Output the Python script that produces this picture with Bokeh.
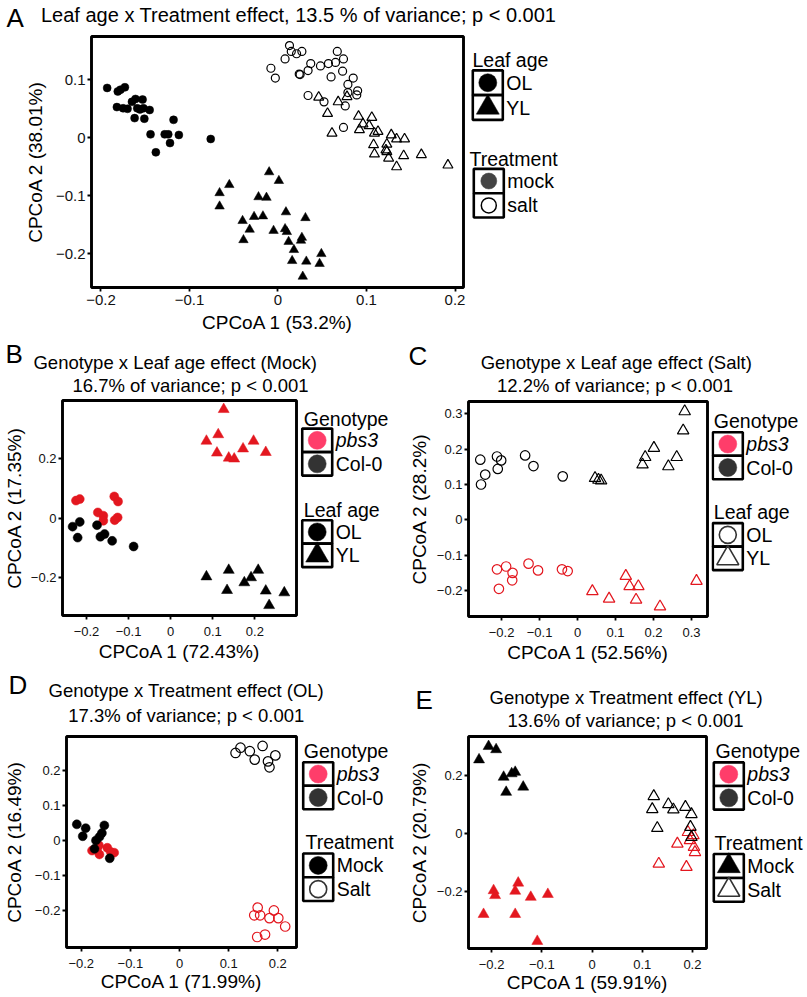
from bokeh.plotting import figure
from bokeh.models import Range1d, FixedTicker
from bokeh.layouts import column, row
from bokeh.embed import file_html
from bokeh.resources import INLINE
from bokeh.core.properties import value

FONT = "Liberation Sans"
RED = "#e3171f"
PINK = "#ff3d6a"
DARK = "#333333"

# ---------------- Panel A data ----------------
A_OL_MOCK_X = [-0.193, -0.181, -0.178, -0.173, -0.182, -0.175, -0.170, -0.165, -0.161, -0.153, -0.159, -0.152,
               -0.145, -0.156, -0.162, -0.151, -0.118, -0.144, -0.128, -0.124, -0.112, -0.122, -0.138, -0.076]
A_OL_MOCK_Y = [0.086, 0.080, 0.083, 0.087, 0.053, 0.051, 0.050, 0.062, 0.067, 0.066, 0.051, 0.051,
               0.048, 0.049, 0.034, 0.033, 0.031, 0.006, 0.006, 0.006, 0.005, -0.009, -0.025, -0.002]
A_OL_SALT_X = [0.013, 0.015, 0.021, 0.027, 0.008, -0.008, -0.003, 0.024, 0.025, 0.034, 0.037, 0.048, 0.057, 0.065,
               0.074, 0.067, 0.060, 0.073, 0.085, 0.079, 0.090, 0.089, 0.079, 0.034, 0.052, 0.076, 0.074]
A_OL_SALT_Y = [0.159, 0.149, 0.145, 0.149, 0.136, 0.120, 0.103, 0.110, 0.109, 0.116, 0.128, 0.124, 0.128, 0.130,
               0.136, 0.149, 0.105, 0.115, 0.103, 0.092, 0.081, 0.074, 0.078, 0.073, 0.062, 0.055, 0.018]
A_YL_SALT_X = [0.046, 0.068, 0.078, 0.056, 0.061, 0.091, 0.106, 0.096, 0.103, 0.092, 0.109, 0.113, 0.128,
               0.134, 0.143, 0.108, 0.123, 0.122, 0.123, 0.109, 0.125, 0.142, 0.162, 0.134, 0.192]
A_YL_SALT_Y = [0.070, 0.062, 0.071, 0.042, 0.008, 0.037, 0.035, 0.024, 0.021, 0.014, 0.008, 0.011, 0.005,
               -0.002, -0.002, -0.012, -0.011, -0.021, -0.024, -0.028, -0.035, -0.031, -0.029, -0.050, -0.047]
A_YL_MOCK_X = [-0.010, 0.001, -0.055, -0.066, -0.066, -0.022, -0.013, -0.040, -0.027, -0.017, -0.032, -0.039, 0.009,
               -0.005, 0.008, 0.010, 0.031, 0.012, 0.027, 0.026, 0.018, 0.016, 0.032, 0.049, 0.047, 0.028]
A_YL_MOCK_Y = [-0.059, -0.074, -0.081, -0.095, -0.118, -0.102, -0.103, -0.143, -0.136, -0.135, -0.158, -0.176, -0.128,
               -0.160, -0.157, -0.162, -0.138, -0.179, -0.172, -0.177, -0.193, -0.212, -0.213, -0.200, -0.217, -0.239]

# ---------------- Panel B data ----------------
B_PBS3_YL_X = [0.126, 0.113, 0.085, 0.110, 0.138, 0.151, 0.172, 0.197, 0.226]
B_PBS3_YL_Y = [0.367, 0.282, 0.260, 0.220, 0.203, 0.200, 0.234, 0.260, 0.222]
B_PBS3_OL_X = [-0.225, -0.216, -0.173, -0.160, -0.160, -0.134, -0.125, -0.126, -0.133]
B_PBS3_OL_Y = [0.059, 0.064, 0.019, 0.008, -0.009, 0.073, 0.056, 0.002, -0.007]
B_COL_OL_X = [-0.233, -0.216, -0.221, -0.175, -0.167, -0.157, -0.139, -0.088]
B_COL_OL_Y = [-0.029, -0.013, -0.066, -0.024, -0.063, -0.054, -0.077, -0.096]
B_COL_YL_X = [0.085, 0.138, 0.134, 0.175, 0.191, 0.208, 0.226, 0.234, 0.270]
B_COL_YL_Y = [-0.198, -0.176, -0.244, -0.218, -0.201, -0.176, -0.246, -0.295, -0.252]

# ---------------- Panel C data ----------------
C_COL_OL_X = [-0.256, -0.243, -0.254, -0.212, -0.201, -0.210, -0.138, -0.116, -0.039]
C_COL_OL_Y = [0.170, 0.128, 0.100, 0.179, 0.168, 0.144, 0.182, 0.152, 0.123]
C_COL_YL_X = [0.046, 0.055, 0.062, 0.171, 0.178, 0.201, 0.239, 0.261, 0.278, 0.282]
C_COL_YL_Y = [0.118, 0.113, 0.111, 0.156, 0.177, 0.203, 0.151, 0.177, 0.252, 0.306]
C_PBS3_OL_X = [-0.212, -0.188, -0.171, -0.172, -0.207, -0.129, -0.104, -0.041, -0.026]
C_PBS3_OL_Y = [-0.139, -0.131, -0.149, -0.170, -0.194, -0.123, -0.142, -0.139, -0.144]
C_PBS3_YL_X = [0.039, 0.083, 0.127, 0.137, 0.160, 0.154, 0.217, 0.313]
C_PBS3_YL_Y = [-0.201, -0.222, -0.158, -0.187, -0.187, -0.225, -0.244, -0.172]

# ---------------- Panel D data ----------------
D_COL_SALT_X = [0.114, 0.124, 0.143, 0.153, 0.169, 0.180, 0.183, 0.195]
D_COL_SALT_Y = [0.250, 0.265, 0.255, 0.231, 0.270, 0.226, 0.209, 0.243]
D_PBS3_SALT_X = [0.159, 0.152, 0.164, 0.183, 0.192, 0.201, 0.215, 0.158, 0.174]
D_PBS3_SALT_Y = [-0.192, -0.214, -0.214, -0.222, -0.200, -0.222, -0.246, -0.276, -0.269]
D_PBS3_MOCK_X = [-0.178, -0.163, -0.147, -0.133, -0.168, -0.140, -0.164]
D_PBS3_MOCK_Y = [-0.029, -0.040, -0.021, -0.035, -0.027, -0.033, -0.014]
D_COL_MOCK_X = [-0.209, -0.191, -0.197, -0.153, -0.158, -0.163, -0.170, -0.173, -0.142]
D_COL_MOCK_Y = [0.046, 0.035, 0.012, 0.043, 0.021, 0.010, 0.000, -0.024, -0.051]

# ---------------- Panel E data ----------------
E_COL_MOCK_X = [-0.225, -0.206, -0.191, -0.176, -0.171, -0.160, -0.153, -0.137]
E_COL_MOCK_Y = [0.253, 0.299, 0.288, 0.193, 0.141, 0.205, 0.210, 0.159]
E_PBS3_MOCK_X = [-0.196, -0.193, -0.216, -0.153, -0.147, -0.153, -0.122, -0.088, -0.109]
E_PBS3_MOCK_Y = [-0.198, -0.215, -0.280, -0.200, -0.172, -0.280, -0.221, -0.211, -0.373]
E_COL_SALT_X = [0.123, 0.120, 0.130, 0.152, 0.162, 0.186, 0.198, 0.196, 0.198]
E_COL_SALT_Y = [0.127, 0.082, 0.017, 0.099, 0.081, 0.090, 0.065, 0.021, -0.014]
E_PBS3_SALT_X = [0.170, 0.133, 0.188, 0.191, 0.195, 0.203, 0.205, 0.202]
E_PBS3_SALT_Y = [-0.037, -0.106, -0.117, 0.003, -0.025, -0.048, -0.066, -0.008]

# ---------------- ticks ----------------
TICKS_5 = [-0.2, -0.1, 0.0, 0.1, 0.2]
TICKS_5_LABELS = ["\u22120.2", "\u22120.1", "0", "0.1", "0.2"]
A_YTICKS = [-0.2, -0.1, 0.0, 0.1]
A_YTICK_LABELS = ["\u22120.2", "\u22120.1", "0", "0.1"]
TICKS_3 = [-0.2, 0.0, 0.2]
TICKS_3_LABELS = ["\u22120.2", "0", "0.2"]
C_TICKS = [-0.2, -0.1, 0.0, 0.1, 0.2, 0.3]
C_TICK_LABELS = ["\u22120.2", "\u22120.1", "0", "0.1", "0.2", "0.3"]

# ---------------- texts ----------------
TITLE_A = "Leaf age x Treatment effect, 13.5 % of variance; p < 0.001"
TITLES_B = ["Genotype x Leaf age effect (Mock)", "16.7% of variance; p < 0.001"]
TITLES_C = ["Genotype x Leaf age effect (Salt)", "12.2% of variance; p < 0.001"]
TITLES_D = ["Genotype x Treatment effect (OL)", "17.3% of variance; p < 0.001"]
TITLES_E = ["Genotype x Treatment effect (YL)", "13.6% of variance; p < 0.001"]


def canvas(w, h):
    p = figure(width=w, height=h, x_range=Range1d(0, w), y_range=Range1d(h, 0),
               output_backend="svg", toolbar_location=None, min_border=0,
               x_axis_type=None, y_axis_type=None)
    p.outline_line_color = None
    p.grid.visible = False
    p.background_fill_color = "white"
    p.border_fill_color = "white"
    return p


def txt(p, x, y, s, size, align="left", style="normal"):
    p.text(x=[x], y=[y], text=[s], text_font=value(FONT), text_font_size=size,
           text_align=align, text_baseline="middle", text_color="black", text_font_style=style)


def panel(xr, yr, fw, fh, mbl, mbr, mbt, mbb, xt, xtl, yt, ytl, xlabel, ylabel,
          tick_px, xls, yls, xas, yas):
    p = figure(width=mbl + fw + mbr, height=mbt + fh + mbb, x_range=Range1d(*xr), y_range=Range1d(*yr),
               output_backend="svg", toolbar_location=None,
               min_border_left=mbl, min_border_right=mbr, min_border_top=mbt, min_border_bottom=mbb)
    p.grid.visible = False
    p.outline_line_color = "black"
    p.outline_line_width = 2.9
    p.background_fill_color = "white"
    p.border_fill_color = "white"
    for ax, ticks, labels, lab, ls, als in ((p.xaxis[0], xt, xtl, xlabel, xls, xas),
                                            (p.yaxis[0], yt, ytl, ylabel, yls, yas)):
        ax.ticker = FixedTicker(ticks=ticks)
        ax.major_label_overrides = {t: l for t, l in zip(ticks, labels)}
        ax.axis_line_color = None
        ax.major_tick_in = 0
        ax.major_tick_out = 4
        ax.major_tick_line_width = 1.8
        ax.major_tick_line_color = "black"
        ax.minor_tick_line_color = None
        ax.major_label_text_font = FONT
        ax.major_label_text_font_size = tick_px
        ax.major_label_text_color = "#111111"
        ax.major_label_standoff = ls
        ax.axis_label = lab
        ax.axis_label_text_font = FONT
        ax.axis_label_text_font_size = "19px"
        ax.axis_label_text_font_style = "normal"
        ax.axis_label_text_color = "black"
        ax.axis_label_standoff = als
    p.yaxis[0].major_label_orientation = "horizontal"
    return p


def pts(p, xs, ys, marker, size, color, filled):
    if filled:
        p.scatter(xs, ys, marker=marker, size=size, fill_color=color, line_color=color, line_width=0.5)
    else:
        p.scatter(xs, ys, marker=marker, size=size, fill_color=None, line_color=color, line_width=1.2)


def legend_group(p, title, tx, ty, bx, by, kh, entries):
    txt(p, tx, ty, title, "19.5px")
    for i, (lab, marker, size, fill, line, lw, style) in enumerate(entries):
        cy = by + kh * (i + 0.5)
        p.rect(x=[bx + 15], y=[cy], width=30, height=kh, fill_color="white",
               line_color="black", line_width=2.6)
        p.scatter(x=[bx + 15], y=[cy], marker=marker, size=size, fill_color=fill,
                  line_color=line, line_width=lw)
        txt(p, bx + 33.5, cy, lab, "19.5px", style=style)


GENO = [("pbs3", "circle", 18, PINK, PINK, 0.5, "italic"), ("Col-0", "circle", 18, DARK, DARK, 0.5, "normal")]
AGE_FILLED = [("OL", "circle", 18, "black", "black", 0.5, "normal"), ("YL", "triangle", 23, "black", "black", 0.5, "normal")]
AGE_OPEN = [("OL", "circle", 17, None, DARK, 1.6, "normal"), ("YL", "triangle", 22, None, DARK, 1.6, "normal")]
TREAT_A = [("mock", "circle", 16, "#444444", "#444444", 0.5, "normal"), ("salt", "circle", 15, None, "black", 1.5, "normal")]
TREAT_D = [("Mock", "circle", 18, "black", "black", 0.5, "normal"), ("Salt", "circle", 17, None, DARK, 1.6, "normal")]
TREAT_E = [("Mock", "triangle", 23, "black", "black", 0.5, "normal"), ("Salt", "triangle", 22, None, DARK, 1.6, "normal")]

# ================= Row 1 : panel A =================
hdrA = canvas(806, 34)
txt(hdrA, 6, 17, "A", "26px")
txt(hdrA, 40.5, 14, TITLE_A, "20px")

figA = panel((-0.2107, 0.2096), (-0.258, 0.1747), 372, 251, 91, 4, 2, 51,
             TICKS_5, TICKS_5_LABELS, A_YTICKS, A_YTICK_LABELS,
             "CPCoA 1 (53.2%)", "CPCoA 2 (38.01%)", "15px", 3, 2, 4, 7)
pts(figA, A_OL_MOCK_X, A_OL_MOCK_Y, "circle", 8, "black", True)
pts(figA, A_YL_MOCK_X, A_YL_MOCK_Y, "triangle", 9.5, "black", True)
pts(figA, A_OL_SALT_X, A_OL_SALT_Y, "circle", 8, "black", False)
pts(figA, A_YL_SALT_X, A_YL_SALT_Y, "triangle", 10, "black", False)

legA = canvas(339, 304)
legend_group(legA, "Leaf age", 5, 29, 5.3, 41, 30, AGE_FILLED)
legend_group(legA, "Treatment", 2, 148.7, 6.3, 160.3, 29.5, TREAT_A)

row1 = column(hdrA, row(figA, legA))

# ================= Row 2 : panels B, C =================
hdrB = canvas(405, 60)
txt(hdrB, 5, 15, "B", "26px")
txt(hdrB, 174.7, 23.7, TITLES_B[0], "18.5px", align="center")
txt(hdrB, 190, 47, TITLES_B[1], "18.5px", align="center")

figB = panel((-0.257, 0.299), (-0.329, 0.397), 240, 215, 56, 4, 2, 53,
             TICKS_5, TICKS_5_LABELS, TICKS_3, TICKS_3_LABELS,
             "CPCoA 1 (72.43%)", "CPCoA 2 (17.35%)", "13px", 7, 2, 2, 3)
pts(figB, B_PBS3_YL_X, B_PBS3_YL_Y, "triangle", 11, RED, True)
pts(figB, B_PBS3_OL_X, B_PBS3_OL_Y, "circle", 9, RED, True)
pts(figB, B_COL_OL_X, B_COL_OL_Y, "circle", 9, "black", True)
pts(figB, B_COL_YL_X, B_COL_YL_Y, "triangle", 11, "black", True)

legB = canvas(105, 270)
legend_group(legB, "Genotype", 3.3, 22.7, 1.7, 35.3, 29.5, GENO)
legend_group(legB, "Leaf age", 3.3, 137, 1.7, 150.3, 29.5, AGE_FILLED)

hdrC = canvas(401, 60)
txt(hdrC, 3, 17, "C", "26px")
txt(hdrC, 210.8, 23.7, TITLES_C[0], "18.5px", align="center")
txt(hdrC, 209.5, 47, TITLES_C[1], "18.5px", align="center")

figC = panel((-0.287, 0.342), (-0.272, 0.334), 240, 215, 62, 4, 3, 52,
             C_TICKS, C_TICK_LABELS, C_TICKS, C_TICK_LABELS,
             "CPCoA 1 (52.56%)", "CPCoA 2 (28.2%)", "13px", 7, 2, 2, 4)
pts(figC, C_PBS3_OL_X, C_PBS3_OL_Y, "circle", 9.5, RED, False)
pts(figC, C_PBS3_YL_X, C_PBS3_YL_Y, "triangle", 11.5, RED, False)
pts(figC, C_COL_OL_X, C_COL_OL_Y, "circle", 9.5, "black", False)
pts(figC, C_COL_YL_X, C_COL_YL_Y, "triangle", 11.5, "black", False)

legC = canvas(95, 270)
legend_group(legC, "Genotype", 2.3, 24.7, 1.3, 38.7, 29.5, GENO)
legend_group(legC, "Leaf age", 2.3, 139.3, 1.3, 152.7, 29.5, AGE_OPEN)

row2 = row(column(hdrB, row(figB, legB)), column(hdrC, row(figC, legC)))

# ================= Row 3 : panels D, E =================
hdrD = canvas(405, 66)
txt(hdrD, 8, 16.5, "D", "26px")
txt(hdrD, 185.8, 22, TITLES_D[0], "18.5px", align="center")
txt(hdrD, 185.8, 47, TITLES_D[1], "18.5px", align="center")

figD = panel((-0.230, 0.238), (-0.306, 0.297), 236, 211, 60, 4, 2, 49,
             TICKS_5, TICKS_5_LABELS, TICKS_5, TICKS_5_LABELS,
             "CPCoA 1 (71.99%)", "CPCoA 2 (16.49%)", "13px", 7, 2, 0, 7)
pts(figD, D_PBS3_MOCK_X, D_PBS3_MOCK_Y, "circle", 9, RED, True)
pts(figD, D_COL_MOCK_X, D_COL_MOCK_Y, "circle", 9, "black", True)
pts(figD, D_PBS3_SALT_X, D_PBS3_SALT_Y, "circle", 9.5, RED, False)
pts(figD, D_COL_SALT_X, D_COL_SALT_Y, "circle", 9.5, "black", False)

legD = canvas(105, 262)
legend_group(legD, "Genotype", 3.3, 17.7, 2.7, 32, 29.2, GENO)
legend_group(legD, "Treatment", 5, 131, 2.7, 145.3, 29.5, TREAT_D)

hdrE = canvas(401, 66)
txt(hdrE, 10, 31, "E", "26px")
txt(hdrE, 220.8, 29.3, TITLES_E[0], "18.5px", align="center")
txt(hdrE, 220, 52, TITLES_E[1], "18.5px", align="center")

figE = panel((-0.246, 0.228), (-0.398, 0.333), 238, 212, 63, 4, 2, 48,
             TICKS_5, TICKS_5_LABELS, TICKS_3, TICKS_3_LABELS,
             "CPCoA 1 (59.91%)", "CPCoA 2 (20.79%)", "13px", 7, 2, 0, 4)
pts(figE, E_PBS3_MOCK_X, E_PBS3_MOCK_Y, "triangle", 11, RED, True)
pts(figE, E_COL_MOCK_X, E_COL_MOCK_Y, "triangle", 11, "black", True)
pts(figE, E_PBS3_SALT_X, E_PBS3_SALT_Y, "triangle", 11.5, RED, False)
pts(figE, E_COL_SALT_X, E_COL_SALT_Y, "triangle", 11.5, "black", False)

legE = canvas(96, 262)
legend_group(legE, "Genotype", 5, 17.7, 3.3, 32, 29.2, GENO)
legend_group(legE, "Treatment", 4, 131, 3.3, 145.3, 29.5, TREAT_E)

row3 = row(column(hdrD, row(figD, legD)), column(hdrE, row(figE, legE)))

page = column(row1, row2, row3)
open("out.html", "w").write(file_html(page, INLINE))
